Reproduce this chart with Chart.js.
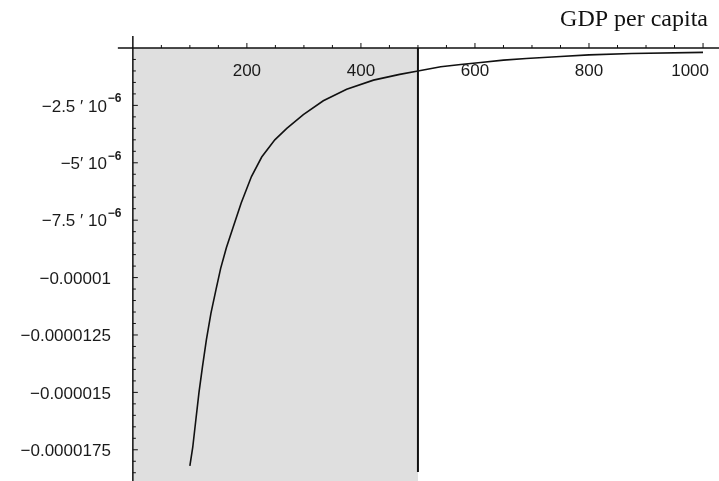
<!DOCTYPE html>
<html>
<head>
<meta charset="utf-8">
<script src="https://cdn.jsdelivr.net/npm/chart.js@4"></script>
<style>
    html, body { margin: 0; padding: 0; background: #ffffff; }
    #plot { display: block; }
</style>
</head>
<body>
<canvas id="plot" width="719" height="481"></canvas>
<script>
// Curve (GDP per capita vs. effect)
const gdp = [100, 105, 110, 116, 122, 129, 137, 146, 154, 164, 176, 190, 208, 226, 249, 270, 299, 334, 375, 422, 468, 500, 540, 575, 610, 650, 690, 750, 800, 875, 1000];
const effect = [-18.2e-6, -17.4e-6, -16.3e-6, -15.0e-6, -13.9e-6, -12.7e-6, -11.55e-6, -10.5e-6, -9.6e-6, -8.7e-6, -7.8e-6, -6.75e-6, -5.6e-6, -4.75e-6, -4.0e-6, -3.5e-6, -2.9e-6, -2.3e-6, -1.8e-6, -1.4e-6, -1.15e-6, -1.0e-6, -0.82e-6, -0.72e-6, -0.63e-6, -0.53e-6, -0.46e-6, -0.37e-6, -0.3e-6, -0.24e-6, -0.19e-6];

// Axis ticks
const xTicks = [200, 400, 600, 800, 1000];
const xMinorStep = 50;
const yTicks = [-2.5e-6, -5e-6, -7.5e-6, -1e-5, -1.25e-5, -1.5e-5, -1.75e-5];
const yTickText = ['\u22122.5 \u2032 10', '\u22125\u2032 10', '\u22127.5 \u2032 10', '\u22120.00001', '\u22120.0000125', '\u22120.000015', '\u22120.0000175'];
const yTickSup = ['\u22126', '\u22126', '\u22126', '', '', '', ''];
const yMinorStep = 0.5e-6;

const shadeTo = 500;
const xTitle = 'GDP per capita';

const mathAxes = {
    id: 'mathAxes',
    beforeDatasetsDraw(chart) {
        const ctx = chart.ctx;
        const xs = chart.scales.x, ys = chart.scales.y;
        const x0 = xs.getPixelForValue(0), x1 = xs.getPixelForValue(shadeTo);
        const y0 = ys.getPixelForValue(0);
        ctx.save();
        ctx.fillStyle = '#dfdfdf';
        ctx.fillRect(x0, y0, x1 - x0, chart.height - y0);
        ctx.restore();
    },
    afterDatasetsDraw(chart) {
        const ctx = chart.ctx;
        const xs = chart.scales.x, ys = chart.scales.y;
        const ax = xs.getPixelForValue(0);
        const ay = ys.getPixelForValue(0);
        ctx.save();
        ctx.strokeStyle = '#111111';
        ctx.fillStyle = '#1a1a1a';

        // vertical line at the threshold
        const vx = xs.getPixelForValue(shadeTo);
        ctx.lineWidth = 2;
        ctx.beginPath();
        ctx.moveTo(vx, ay);
        ctx.lineTo(vx, 472);
        ctx.stroke();

        // axes
        ctx.lineWidth = 1.5;
        ctx.beginPath();
        ctx.moveTo(ax - 15, ay);
        ctx.lineTo(chart.width, ay);
        ctx.moveTo(ax, ay - 12);
        ctx.lineTo(ax, chart.height);
        ctx.stroke();

        // x ticks
        ctx.lineWidth = 1;
        ctx.beginPath();
        for (let v = xMinorStep; v <= 1000; v += xMinorStep) {
            const px = xs.getPixelForValue(v);
            const len = xTicks.includes(v) ? 5 : 3;
            ctx.moveTo(px, ay);
            ctx.lineTo(px, ay - len);
        }
        // y ticks
        for (let k = 1; ; k++) {
            const py = ys.getPixelForValue(-k * yMinorStep);
            if (py > chart.height) break;
            const len = k % 5 === 0 ? 5 : 3;
            ctx.moveTo(ax, py);
            ctx.lineTo(ax + len, py);
        }
        ctx.stroke();

        // x labels
        ctx.font = '17px "Liberation Sans", Arial, sans-serif';
        ctx.textBaseline = 'middle';
        ctx.textAlign = 'center';
        xTicks.forEach(v => {
            let px = xs.getPixelForValue(v);
            const w = ctx.measureText(String(v)).width;
            if (px + w / 2 > 709) px = 709 - w / 2;
            ctx.fillText(String(v), px, ay + 23);
        });

        // y labels
        yTicks.forEach((v, i) => {
            const py = ys.getPixelForValue(v) + 1.5;
            ctx.font = '17px "Liberation Sans", Arial, sans-serif';
            ctx.textAlign = 'right';
            if (yTickSup[i]) {
                ctx.fillText(yTickText[i], ax - 26, py);
                ctx.font = 'bold 12px "Liberation Sans", Arial, sans-serif';
                ctx.textAlign = 'left';
                ctx.fillText(yTickSup[i], ax - 25, py - 8);
            } else {
                ctx.fillText(yTickText[i], ax - 22, py);
            }
        });

        // axis title
        ctx.font = '24px "Liberation Serif", "Times New Roman", serif';
        ctx.textAlign = 'right';
        ctx.textBaseline = 'alphabetic';
        ctx.fillStyle = '#111111';
        ctx.fillText(xTitle, 708, 26);
        ctx.restore();
    }
};

new Chart(document.getElementById('plot'), {
    type: 'line',
    data: {
        datasets: [{
            data: gdp.map((g, i) => ({ x: g, y: effect[i] })),
            borderColor: '#111111',
            borderWidth: 1.6,
            pointRadius: 0,
            tension: 0,
            fill: false
        }]
    },
    options: {
        responsive: false,
        animation: false,
        devicePixelRatio: 1,
        layout: { padding: 0 },
        plugins: {
            legend: { display: false },
            title: { display: false },
            tooltip: { enabled: false }
        },
        scales: {
            x: { type: 'linear', min: -233, max: 1028, display: false },
            y: { type: 'linear', min: -18.86e-6, max: 2.09e-6, display: false }
        }
    },
    plugins: [mathAxes]
});
</script>
</body>
</html>
